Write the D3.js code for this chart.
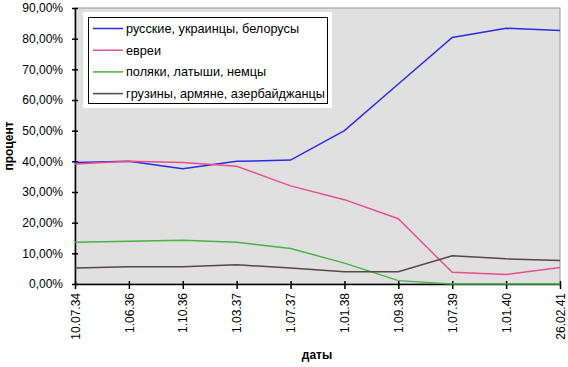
<!DOCTYPE html>
<html><head><meta charset="utf-8">
<script src="https://cdn.jsdelivr.net/npm/d3@7"></script>
<style>body{margin:0;background:#fff}svg{display:block}text{font-family:"Liberation Sans",Arial,sans-serif}</style>
</head><body>
<script>
const categories = ["10.07.34","1.06.36","1.10.36","1.03.37","1.07.37","1.01.38","1.09.38","1.07.39","1.01.40","26.02.41"];
const seriesNames = ["русские, украинцы, белорусы","евреи","поляки, латыши, немцы","грузины, армяне, азербайджанцы"];
const russians = [39.6, 40.0, 37.6, 40.0, 40.4, 50.0, 65.2, 80.4, 83.4, 82.7];
const jews = [39.1, 40.0, 39.6, 38.4, 32.0, 27.5, 21.3, 3.8, 3.1, 5.4];
const poles = [13.6, 13.9, 14.3, 13.6, 11.6, 6.8, 1.1, 0, 0, 0];
const caucasus = [5.2, 5.6, 5.6, 6.3, 5.2, 4.0, 4.0, 9.2, 8.2, 7.7];
const yTicks = [0,10,20,30,40,50,60,70,80,90];
const colors = ["#2b2be6","#e8508c","#46b446","#554848"];
const allSeries = [russians, jews, poles, caucasus];

const W = 568, H = 367;
const svg = d3.select("body").append("svg").attr("width", W).attr("height", H);
const x = d3.scalePoint().domain(categories).range([75, 560]);
const y = d3.scaleLinear().domain([0, 90]).range([284, 8]);

svg.append("rect").attr("x", 75).attr("y", 8).attr("width", 485).attr("height", 276)
  .attr("fill", "#e0e0e0").attr("stroke", "#9a9a9a").attr("stroke-width", 1);

const fmt = v => d3.format(".2f")(v).replace(".", ",") + "%";

const yAxis = svg.append("g").attr("transform", "translate(75,0)")
  .call(d3.axisLeft(y).tickValues(yTicks).tickFormat(fmt).tickSizeInner(3).tickSizeOuter(0).tickPadding(9));
yAxis.select(".domain").attr("stroke", "#000").attr("stroke-width", 1.5);
yAxis.selectAll(".tick line").attr("x1", -3).attr("x2", 3).attr("stroke", "#000").attr("stroke-width", 1.5);
yAxis.selectAll("text").attr("font-size", 12).attr("fill", "#000").style("font-family", "'Liberation Sans', Arial, sans-serif");

const xAxis = svg.append("g").attr("transform", "translate(0,284)")
  .call(d3.axisBottom(x).tickSizeInner(4).tickSizeOuter(0));
xAxis.select(".domain").attr("stroke", "#000").attr("stroke-width", 1.5);
xAxis.selectAll(".tick line").attr("y1", -3).attr("y2", 5).attr("stroke", "#000").attr("stroke-width", 1.5);
xAxis.selectAll("text").attr("font-size", 12).attr("fill", "#000")
  .style("font-family", "'Liberation Sans', Arial, sans-serif")
  .attr("transform", "rotate(-90)").attr("text-anchor", "end")
  .attr("x", -9).attr("y", 0).attr("dy", "0.35em");

const line = d3.line().x((d, i) => x(categories[i])).y(d => y(d));
allSeries.forEach((s, k) => {
  svg.append("path").datum(s).attr("d", line).attr("fill", "none")
    .attr("stroke", colors[k]).attr("stroke-width", 1.5);
});

// legend
const lg = svg.append("g");
lg.append("rect").attr("x", 83).attr("y", 12).attr("width", 249).attr("height", 96).attr("fill", "#fff");
lg.append("rect").attr("x", 88.5).attr("y", 17.5).attr("width", 239).attr("height", 86).attr("fill", "none").attr("stroke", "#000").attr("stroke-width", 1);
seriesNames.forEach((n, k) => {
  const yy = 28.5 + k * 21.7;
  lg.append("line").attr("x1", 93).attr("x2", 123).attr("y1", yy).attr("y2", yy).attr("stroke", colors[k]).attr("stroke-width", 1.5);
  lg.append("text").attr("x", 126).attr("y", yy).attr("dy", "0.35em").attr("font-size", 12.7).text(n);
});

svg.append("text").attr("transform", "translate(13,146) rotate(-90)").attr("text-anchor", "middle")
  .attr("font-size", 12).attr("font-weight", "bold").text("процент");
svg.append("text").attr("x", 317).attr("y", 359).attr("text-anchor", "middle")
  .attr("font-size", 12).attr("font-weight", "bold").text("даты");
</script>
</body></html>
